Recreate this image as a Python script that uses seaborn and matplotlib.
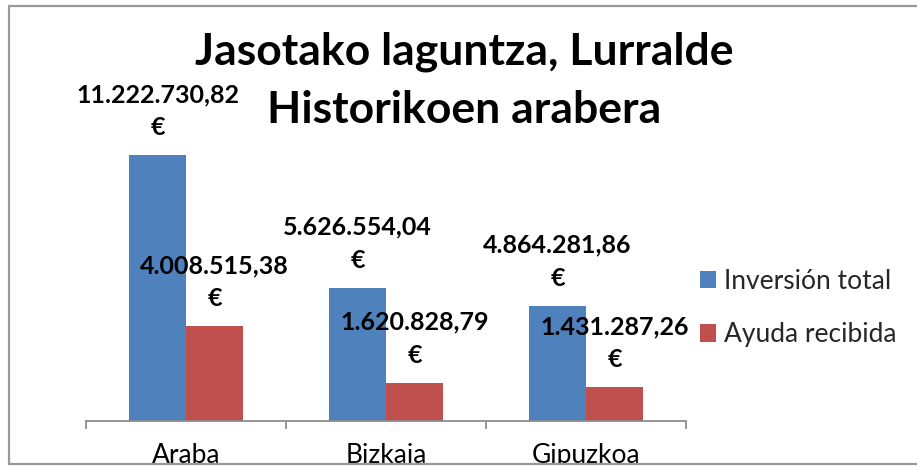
import matplotlib
matplotlib.use("Agg")
import matplotlib.pyplot as plt
import seaborn as sns
import pandas as pd
from matplotlib.patches import Rectangle
from matplotlib.lines import Line2D

# ---- data ----
categories = ["Araba", "Bizkaia", "Gipuzkoa"]
series_names = ["Inversión total", "Ayuda recibida"]
inversion_total = [11222730.82, 5626554.04, 4864281.86]
ayuda_recibida = [4008515.38, 1620828.79, 1431287.26]
title_lines = ["Jasotako laguntza, Lurralde", "Historikoen arabera"]
colors = ["#4F81BD", "#C0504D"]

df = pd.DataFrame({
    "Lurraldea": categories * 2,
    "Serie": [series_names[0]] * 3 + [series_names[1]] * 3,
    "Balioa": inversion_total + ayuda_recibida,
})

def fmt_eur(v):
    s = f"{v:,.2f}"  # 11,222,730.82
    return s.replace(",", "X").replace(".", ",").replace("X", ".")

sns.set_theme(style="white")
plt.rcParams["font.family"] = ["Lato", "DejaVu Sans"]

W, H, DPI = 917, 466, 100
fig = plt.figure(figsize=(W / DPI, H / DPI), dpi=DPI)
fig.patch.set_facecolor("white")

px = lambda p: p * 72.0 / DPI  # pixels -> points

ax_left, ax_right, ax_bottom, ax_top = 86, 686, 421, 60
ax = fig.add_axes([ax_left / W, (H - ax_bottom) / H,
                   (ax_right - ax_left) / W, (ax_bottom - ax_top) / H])

sns.barplot(data=df, x="Lurraldea", y="Balioa", hue="Serie",
            palette=colors, width=0.57, saturation=1, ax=ax,
            legend=False, edgecolor="none", linewidth=0)

ax.set_xlim(-0.5, 2.5)
ax.set_ylim(0, 15.23e6)
ax.set_xlabel("")
ax.set_ylabel("")
ax.set_yticks([])
for s in ["top", "right", "left"]:
    ax.spines[s].set_visible(False)
ax.spines["bottom"].set_color("#8C8C8C")
ax.spines["bottom"].set_linewidth(1.3)

ax.set_xticks([-0.5, 0.5, 1.5, 2.5], minor=True)
ax.tick_params(axis="x", which="minor", length=px(8), width=1.3,
               color="#8C8C8C", direction="out", bottom=True)
ax.tick_params(axis="x", which="major", length=0, pad=px(22),
               labelsize=19, labelcolor="black")

# data labels
for cont in ax.containers:
    for bar in cont:
        xc = bar.get_x() + bar.get_width() / 2
        v = bar.get_height()
        ax.annotate(fmt_eur(v), (xc, v), xytext=(0, px(53)),
                    textcoords="offset points", ha="center", va="baseline",
                    fontsize=18, fontweight="bold", color="black",
                    annotation_clip=False)
        ax.annotate("€", (xc, v), xytext=(0, px(20)),
                    textcoords="offset points", ha="center", va="baseline",
                    fontsize=18, fontweight="bold", color="black",
                    annotation_clip=False)

# title (two lines, baselines at 65 px and 123 px from top)
for line, base in zip(title_lines, [65, 123]):
    fig.text(464 / W, 1 - base / H, line, ha="center", va="baseline",
             fontsize=32, fontweight="bold", color="black")

# legend
handles = [Rectangle((0, 0), 1, 1, facecolor=c, edgecolor="none") for c in colors]
leg = fig.legend(handles, series_names, loc="center left",
                 bbox_to_anchor=(700 / W, 1 - 308 / H), frameon=False,
                 fontsize=19, handlelength=0.62, handleheight=0.62,
                 handletextpad=0.3, labelspacing=1.08, borderpad=0,
                 borderaxespad=0)

# chart area border (left, top, bottom)
bc = "#999999"
fig.add_artist(Line2D([8.5 / W, 8.5 / W], [1 - 5.5 / H, 1 - 463.5 / H],
                      transform=fig.transFigure, color=bc, lw=1.6, zorder=10))
fig.add_artist(Line2D([8.5 / W, 1.0], [1 - 5.5 / H, 1 - 5.5 / H],
                      transform=fig.transFigure, color=bc, lw=1.6, zorder=10))
fig.add_artist(Rectangle((0, 0), 1, 2 / H, transform=fig.transFigure,
                         facecolor="white", edgecolor="none", zorder=9))
fig.add_artist(Line2D([8.5 / W, 1.0], [1 - 463.5 / H, 1 - 463.5 / H],
                      transform=fig.transFigure, color=bc, lw=1.6, zorder=10))

fig.savefig("out.png", dpi=DPI, facecolor="white")
